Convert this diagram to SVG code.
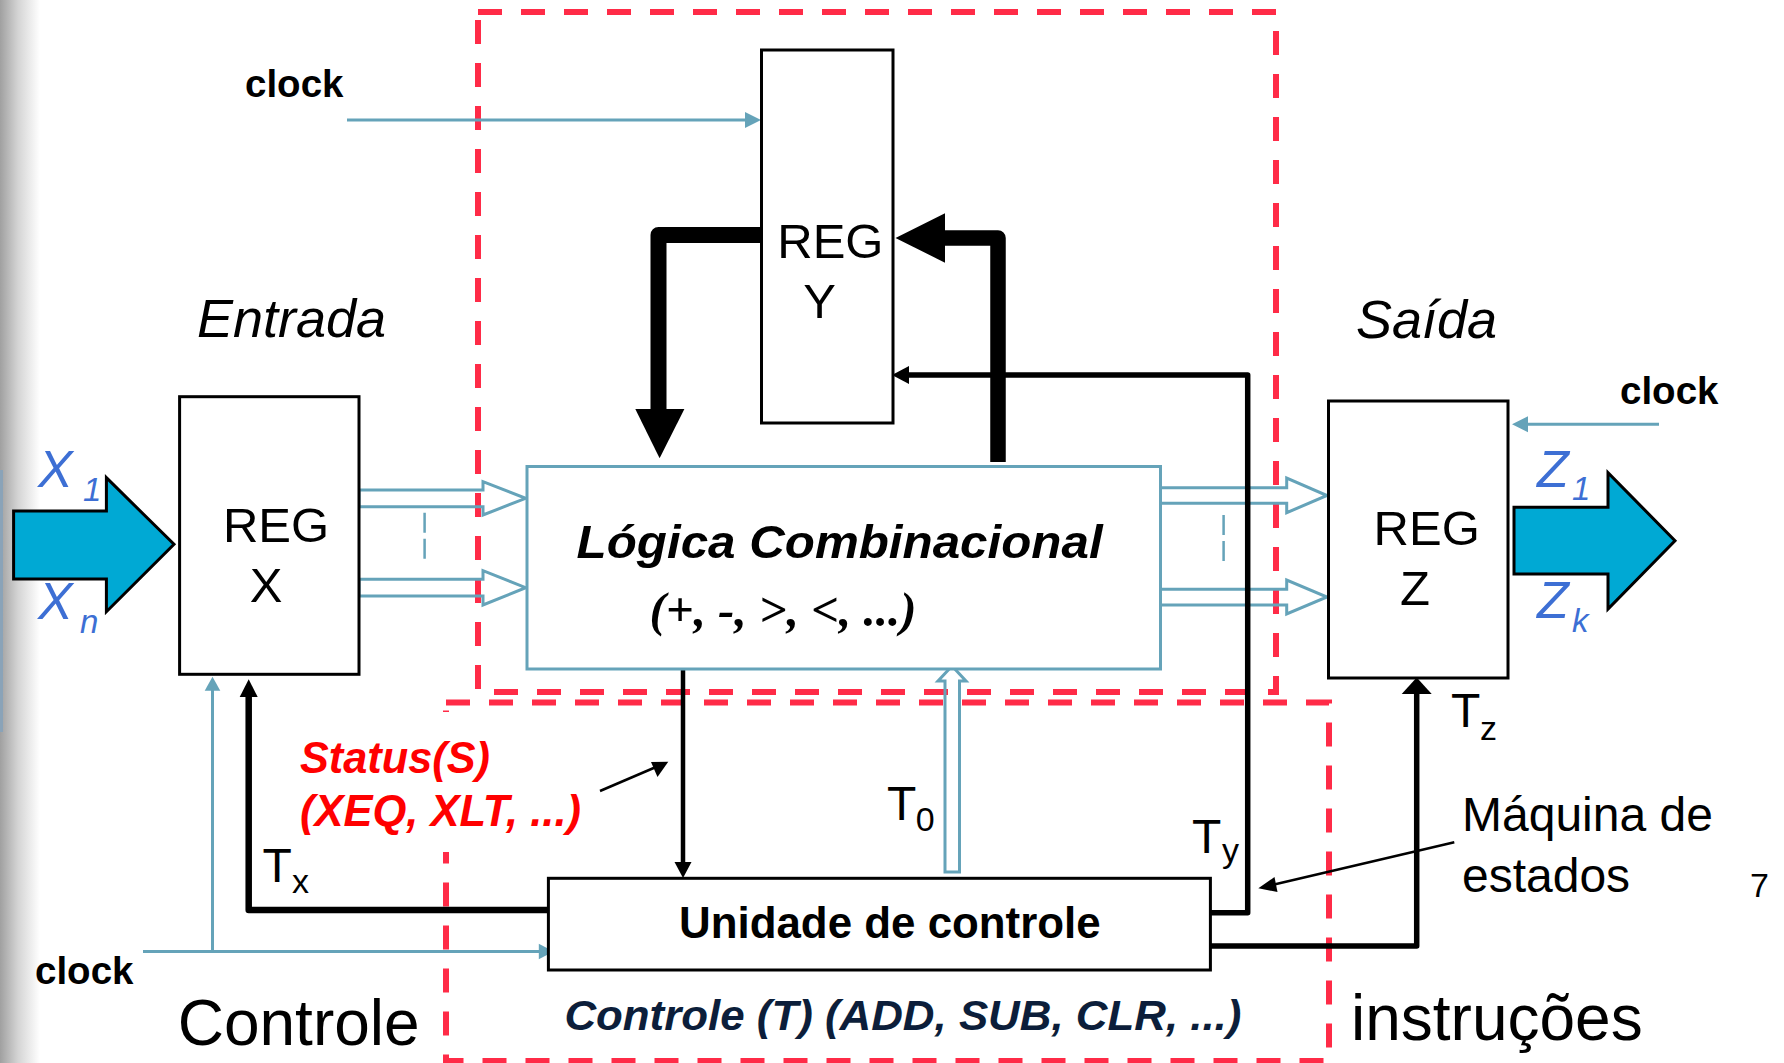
<svg xmlns="http://www.w3.org/2000/svg" width="1784" height="1063" viewBox="0 0 1784 1063">
  <defs>
    <linearGradient id="edgeShade" x1="0" y1="0" x2="1" y2="0">
      <stop offset="0" stop-color="#a0a0a0"/>
      <stop offset="0.45" stop-color="#d4d4d4"/>
      <stop offset="1" stop-color="#ffffff"/>
    </linearGradient>
    <style>
      .sans { font-family: "Liberation Sans", Arial, sans-serif; }
      .serif { font-family: "Liberation Serif", "Times New Roman", serif; }
      .box { fill: #ffffff; stroke: #000000; stroke-width: 3; }
      .logic { fill: #ffffff; stroke: #65a3b9; stroke-width: 3; }
      .region { fill: none; stroke: #ff2b47; stroke-width: 6; stroke-dasharray: 24 19; }
      .bus { fill: none; stroke: #65a3b9; stroke-width: 3; stroke-linejoin: miter; }
      .clk { fill: none; stroke: #65a3b9; stroke-width: 3; }
      .clkhead { fill: #65a3b9; }
      .dots { stroke: #65a3b9; stroke-width: 2.5; stroke-dasharray: 20 6; }
      .wire { fill: none; stroke: #000000; stroke-linejoin: round; }
      .head { fill: #000000; }
      .bigarrow { fill: #00a9d4; stroke: #000000; stroke-width: 3; stroke-linejoin: miter; }
      .reg { font-size: 49px; fill: #000000; }
      .sig { fill: #3d6fd4; font-style: italic; }
      .clock { font-size: 38.5px; font-weight: bold; fill: #000000; }
      .tlabel { font-size: 48px; fill: #000000; }
      .tsub { font-size: 34px; fill: #000000; }
    </style>
  </defs>

  <rect x="0" y="0" width="1784" height="1063" fill="#ffffff"/>
  <!-- page edge shading -->
  <rect x="0" y="0" width="40" height="1063" fill="url(#edgeShade)"/>
  <rect x="0" y="470" width="3" height="262" fill="#8aa3b8"/>

  <!-- dashed regions -->
  <g id="datapath-region">
    <path class="region" d="M478,12 H1276 V692 H478 Z"/>
  </g>
  <g id="control-region">
    <path class="region" d="M446,702.5 H1329 V1061 H446 Z"/>
  </g>

  <g id="connectors">
    <!-- clock lines -->
    <line class="clk" x1="347" y1="120" x2="746" y2="120"/>
    <polygon class="clkhead" points="761,120 745,112 745,128"/>
    <line class="clk" x1="1659" y1="424.3" x2="1527" y2="424.3"/>
    <polygon class="clkhead" points="1512,424.3 1528,416.3 1528,432.3"/>
    <line class="clk" x1="143" y1="951.5" x2="540" y2="951.5"/>
    <polygon class="clkhead" points="553.6,951.5 538.8,943.8 538.8,959.2"/>
    <line class="clk" x1="212.5" y1="951.5" x2="212.5" y2="689"/>
    <polygon class="clkhead" points="212.5,676.7 204.7,690.7 220.3,690.7"/>

    <!-- data buses -->
    <polygon class="bus" points="359,490 483,490 483,481.7 525.7,498.3 483,515 483,506.7 359,506.7"/>
    <polygon class="bus" points="359,579.3 483,579.3 483,570.7 525.7,587.7 483,605 483,596 359,596"/>
    <line class="dots" x1="424.6" y1="512.7" x2="424.6" y2="561.7"/>
    <polygon class="bus" points="1160.5,487.7 1286.7,487.7 1286.7,478 1327,495.5 1286.7,512.7 1286.7,503.3 1160.5,503.3"/>
    <polygon class="bus" points="1160.5,589.3 1286.7,589.3 1286.7,580 1327,597 1286.7,614 1286.7,605 1160.5,605"/>
    <line class="dots" x1="1223.6" y1="515" x2="1223.6" y2="565"/>
    <polygon class="bus" stroke-width="2.5" points="945,872 945,681 938,681 952,666 966,681 959.5,681 959.5,872"/>

    <!-- REG Y feedback loop -->
    <path class="wire" stroke-width="16" d="M762,235 H658.5 V412"/>
    <polygon class="head" points="635.3,409 684.4,409 659.6,458.3"/>
    <path class="wire" stroke-width="15.5" d="M998,462 V238 H943"/>
    <polygon class="head" points="945,213.3 945,262.7 895.5,238"/>

    <!-- status to control unit -->
    <line class="wire" stroke-width="4.5" x1="683" y1="669" x2="683" y2="864"/>
    <polygon class="head" points="683,878 674.5,862 691.5,862"/>
    <line class="wire" stroke-width="2.5" x1="600" y1="791" x2="656" y2="767"/>
    <polygon class="head" points="668.3,761.7 651,762 657.5,777"/>

    <!-- control signals -->
    <path class="wire" stroke-width="6.5" d="M548,910 H248.7 V694"/>
    <polygon class="head" points="248.7,679.3 239.7,697 257.7,697"/>
    <path class="wire" stroke-width="5.5" d="M1210.5,912.7 H1247.7 V375 H906"/>
    <polygon class="head" points="892,375 909,366 909,384"/>
    <path class="wire" stroke-width="5.5" d="M1210.5,946 H1416.7 V692"/>
    <polygon class="head" points="1416.7,677.5 1401.7,694 1431.7,694"/>

    <!-- state machine pointer -->
    <line class="wire" stroke-width="2.5" x1="1454.3" y1="842.3" x2="1272" y2="885"/>
    <polygon class="head" points="1258.3,888.3 1274.5,877 1277.5,892"/>
  </g>

  <!-- input / output arrows -->
  <g id="input-arrow">
    <polygon class="bigarrow" points="13.6,511 106.4,511 106.4,477.7 174,544.3 106.4,611.7 106.4,579 13.6,579"/>
    <text class="sans sig" x="38" y="487" font-size="52">X</text>
    <text class="sans sig" x="83" y="500.7" font-size="33">1</text>
    <text class="sans sig" x="38" y="619" font-size="52">X</text>
    <text class="sans sig" x="80" y="633" font-size="33">n</text>
  </g>
  <g id="output-arrow">
    <polygon class="bigarrow" points="1514,507.3 1608,507.3 1608,472.7 1675,540.7 1608,609 1608,574 1514,574"/>
    <text class="sans sig" x="1537" y="486.7" font-size="52">Z</text>
    <text class="sans sig" x="1572" y="500" font-size="33">1</text>
    <text class="sans sig" x="1537" y="618.3" font-size="52">Z</text>
    <text class="sans sig" x="1572" y="631.7" font-size="33">k</text>
  </g>

  <!-- registers and blocks -->
  <g id="reg-x">
    <rect class="box" x="179.6" y="396.7" width="179.4" height="277.6"/>
    <text class="sans reg" x="276" y="542.3" text-anchor="middle">REG</text>
    <text class="sans reg" x="266" y="601.7" text-anchor="middle">X</text>
  </g>
  <g id="reg-y">
    <rect class="box" x="761.5" y="50" width="131.5" height="373"/>
    <text class="sans reg" x="830.4" y="258.3" text-anchor="middle">REG</text>
    <text class="sans reg" x="819.5" y="318.3" text-anchor="middle">Y</text>
  </g>
  <g id="reg-z">
    <rect class="box" x="1328.5" y="401" width="179.5" height="277"/>
    <text class="sans reg" x="1426.7" y="545" text-anchor="middle">REG</text>
    <text class="sans reg" x="1415" y="605" text-anchor="middle">Z</text>
  </g>
  <g id="combinational-logic">
    <rect class="logic" x="527" y="466.5" width="633.5" height="202.5"/>
    <text class="sans" x="576.6" y="558" font-size="47" font-weight="bold" font-style="italic" textLength="526" lengthAdjust="spacingAndGlyphs">Lógica Combinacional</text>
    <text class="serif" x="649.5" y="626" font-size="48" font-weight="bold" font-style="italic" textLength="267" lengthAdjust="spacingAndGlyphs">(+, -, &gt;, &lt;, ...)</text>
  </g>
  <g id="control-unit">
    <rect class="box" x="548.4" y="878.3" width="662" height="91.7"/>
    <text class="sans" x="679" y="938.3" font-size="44" font-weight="bold" textLength="421.7" lengthAdjust="spacingAndGlyphs">Unidade de controle</text>
  </g>

  <!-- labels -->
  <g id="status-label">
    <rect x="296" y="712" width="296" height="140" fill="#ffffff"/>
    <text class="sans" x="300" y="773.3" font-size="44" font-weight="bold" font-style="italic" fill="#ff0000" textLength="190" lengthAdjust="spacingAndGlyphs">Status(S)</text>
    <text class="sans" x="300" y="825.7" font-size="44" font-weight="bold" font-style="italic" fill="#ff0000" textLength="281" lengthAdjust="spacingAndGlyphs">(XEQ, XLT, ...)</text>
  </g>
  <g id="signal-labels">
    <text class="sans tlabel" x="262.5" y="881.7">T</text>
    <text class="sans tsub" x="292" y="893.3">x</text>
    <text class="sans tlabel" x="887" y="820">T</text>
    <text class="sans tsub" x="915.7" y="831">0</text>
    <text class="sans tlabel" x="1192" y="852.7">T</text>
    <text class="sans tsub" x="1222" y="862">y</text>
    <text class="sans tlabel" x="1451" y="726.7">T</text>
    <text class="sans tsub" x="1480" y="740">z</text>
  </g>
  <g id="clock-labels">
    <text class="sans clock" x="245" y="96.7">clock</text>
    <text class="sans clock" x="1620" y="404">clock</text>
    <text class="sans clock" x="35" y="984">clock</text>
  </g>
  <g id="section-labels">
    <text class="sans" x="197" y="336.7" font-size="54" font-style="italic">Entrada</text>
    <text class="sans" x="1356" y="338.3" font-size="54" font-style="italic">Saída</text>
    <text class="sans" x="177.7" y="1045" font-size="64">Controle</text>
    <text class="sans" x="1351" y="1040" font-size="64">instruções</text>
    <text class="sans" x="564.4" y="1030" font-size="43" font-weight="bold" font-style="italic" fill="#0c1e3a" textLength="677" lengthAdjust="spacingAndGlyphs">Controle (T) (ADD, SUB, CLR, ...)</text>
    <text class="sans" x="1462" y="830.7" font-size="48">Máquina de</text>
    <text class="sans" x="1462" y="891.7" font-size="48">estados</text>
    <text class="sans" x="1750" y="896.7" font-size="34">7</text>
  </g>
</svg>
